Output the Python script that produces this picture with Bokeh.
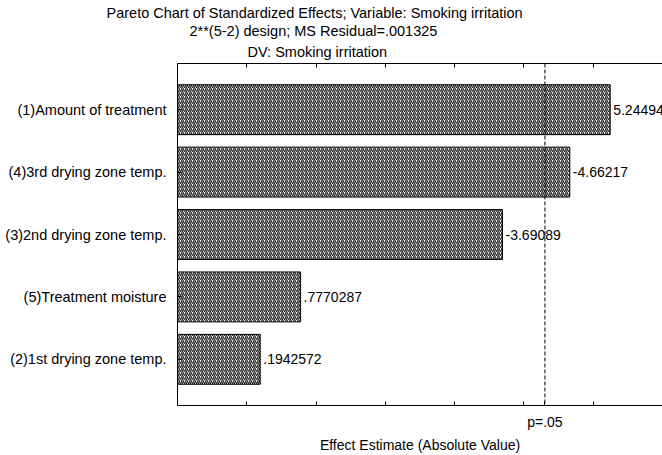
from bokeh.plotting import figure
from bokeh.models import (Range1d, FixedTicker, LinearAxis, Span, Title, ColumnDataSource,
                          CustomJSTickFormatter)
from bokeh.core.properties import value
from bokeh.embed import file_html
from bokeh.resources import INLINE

# ---- data ----
factors = [
    "(1)Amount of treatment",
    "(4)3rd drying zone temp.",
    "(3)2nd drying zone temp.",
    "(5)Treatment moisture",
    "(2)1st drying zone temp.",
]
effects = [5.24494, -4.66217, -3.69089, 0.7770287, 0.1942572]
p_crit = 4.303
p_label = "p=.05"
x_ticks = [-1, 0, 1, 2, 3, 4, 5, 6]
title_lines = [
    "Pareto Chart of Standardized Effects; Variable: Smoking irritation",
    "2**(5-2) design; MS Residual=.001325",
    "DV: Smoking irritation",
]
x_title = "Effect Estimate (Absolute Value)"

FONT = "Liberation Sans"


def fmt(v):
    s = f"{v:.7g}"
    if s.startswith("0."):
        s = s[1:]
    elif s.startswith("-0."):
        s = "-" + s[2:]
    return s


pos = list(range(1, len(factors) + 1))
src = ColumnDataSource(dict(
    y=pos,
    right=[abs(v) for v in effects],
    txt=[fmt(v) for v in effects],
))

W, H = 662, 455
ML, MT, MB = 177, 63, 49
p = figure(
    width=W, height=H, output_backend="svg", toolbar_location=None, title=None,
    x_range=Range1d(-1, 6), y_range=Range1d(len(factors) + 0.74, 0.26),
    min_border_left=ML, min_border_right=0, min_border_top=MT, min_border_bottom=MB,
)
p.outline_line_color = None
p.xgrid.visible = False
p.ygrid.visible = False
p.background_fill_color = "white"
p.border_fill_color = "white"

# bars
p.hbar(y="y", left=p.x_range.start, right="right", height=0.8, source=src,
       fill_color="white", hatch_pattern="/", hatch_color="#2a2a2a",
       hatch_scale=4, hatch_weight=1.4, line_color="black", line_width=1)

# value labels
p.text(x="right", y="y", text="txt", source=src, x_offset=3,
       text_baseline="middle", text_align="left",
       text_font=value(FONT), text_font_size="14px", text_color="black")

# critical line
p.add_layout(Span(location=p_crit, dimension="height", line_color="black",
                  line_dash="4 2", line_width=1))

# bottom axis: integer ticks without labels, plus the p=.05 label at the critical value
xa = p.xaxis[0]
xa.ticker = FixedTicker(ticks=x_ticks + [p_crit])
xa.formatter = CustomJSTickFormatter(args=dict(pc=p_crit, lab=p_label),
                                     code="return Math.abs(tick - pc) < 1e-9 ? lab : '';")
xa.major_label_text_font = FONT
xa.major_label_text_font_size = "14px"
xa.major_label_text_color = "black"
xa.major_label_standoff = 8
xa.major_tick_in = 4
xa.major_tick_out = 0
xa.minor_tick_line_color = None
xa.axis_line_color = "black"
xa.axis_label = x_title
xa.axis_label_text_font = FONT
xa.axis_label_text_font_size = "14px"
xa.axis_label_text_font_style = "normal"
xa.axis_label_text_color = "black"
xa.axis_label_standoff = 4

top = LinearAxis(ticker=FixedTicker(ticks=x_ticks),
                 major_label_overrides={t: "" for t in x_ticks},
                 major_tick_in=4, major_tick_out=0, minor_tick_line_color=None,
                 axis_line_color="black", major_label_standoff=0)
p.add_layout(top, "above")

ya = p.yaxis[0]
ya.ticker = FixedTicker(ticks=pos)
ya.major_label_overrides = {i: f for i, f in zip(pos, factors)}
ya.major_label_text_font = FONT
ya.major_label_text_font_size = "14.5px"
ya.major_label_text_color = "black"
ya.major_label_standoff = 11
ya.major_tick_in = 4
ya.major_tick_out = 0
ya.minor_tick_line_color = None
ya.axis_line_color = "black"

# title lines, left-aligned with pixel offsets relative to the frame's left edge
title_offsets = [-71, 12, 70]
title_standoffs = [0, 0, 7]
# add from nearest-to-frame outward
for t, off, so in reversed(list(zip(title_lines, title_offsets, title_standoffs))):
    p.add_layout(Title(text=t, align="left", offset=off,
                       text_font=FONT, text_font_size="14.5px", text_font_style="normal",
                       text_color="black", standoff=so), "above")

open("out.html", "w").write(file_html(p, INLINE))
